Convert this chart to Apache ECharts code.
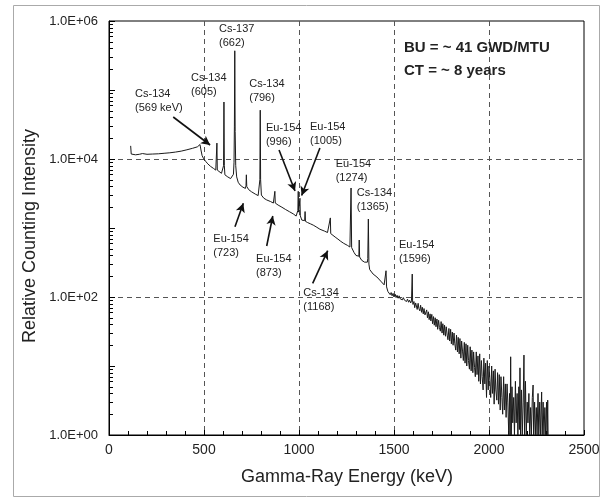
<!DOCTYPE html>
<html>
<head>
<meta charset="utf-8">
<script src="https://cdn.jsdelivr.net/npm/echarts@6/dist/echarts.min.js"></script>
<style>html,body{margin:0;padding:0;background:#fff}#c{width:605px;height:499px}</style>
</head>
<body>
<div id="c"></div>
<script>
// ---- data: [energy keV, relative counts] ----
const spectrumLow = [
 [114,15500],[117,11800],[125,11600],[140,11500],[160,11700],[176,12000],[180,12800],[184,11900],
 [200,11700],[230,11800],[260,11900],[290,12100],[320,12300],[350,12600],[380,13000],[410,13600],
 [440,14300],[465,15000],[475,15600],[479,16200],[484,13500],[490,11200],[498,10100],[508,9300],
 [520,8500],[535,7800],[550,7300],[562,6900],[566,7200],[568,17000],[570,6900],[580,6500],[592,6200],
 [600,6000],[603,8000],[605,67000],[607,8000],[610,5900],[625,5500],[640,5200],[650,5100],[655,6000],
 [658,9000],[660,30000],[662,370000],[664,25000],[667,8000],[672,5500],[680,4600],[690,4200],[705,3900],
 [718,3750],[721,4100],[723,5900],[725,4000],[735,3600],[750,3350],[755,3300],[757,3550],[759,3250],
 [770,3100],[785,2950],[790,3100],[794,5000],[796,51000],[798,5000],[802,3000],[815,2700],[830,2550],
 [850,2420],[865,2300],[871,2350],[873,3400],[875,2300],[890,2150],[910,2000],[930,1850],[950,1720],
 [970,1600],[985,1490],[992,1480],[994,1800],[996,3400],[998,1700],[1002,1650],[1005,2700],[1007,1500]
];
const spectrumMid = [
 [1015,1300],[1025,1260],[1030,1280],[1032,1730],[1034,1250],[1045,1200],[1060,1150],[1075,1100],
 [1090,1040],[1100,1020],[1110,960],[1120,940],[1135,900],[1150,860],[1160,840],[1163,850],[1165,1400],
 [1167,830],[1175,800],[1190,740],[1205,690],[1220,640],[1235,600],[1245,580],[1255,560],[1262,545],
 [1268,530],[1271,560],[1274,3800],[1277,520],[1282,500],[1290,440],[1300,400],[1310,380],[1315,390],
 [1317,670],[1319,380],[1330,340],[1345,320],[1355,310],[1360,320],[1362,360],[1365,1350],[1368,300],
 [1372,250],[1380,235],[1390,215],[1400,205],[1410,195],[1420,185],[1430,170],[1440,160],[1448,150],
 [1455,145],[1458,240],[1461,140],[1468,120],[1475,125],[1480,108],[1485,116],[1490,104],[1495,113],
 [1500,100],[1506,110],[1511,98],[1516,106],[1522,96],[1527,104],[1533,94],[1538,100],[1544,91],
 [1549,98],[1555,90],[1560,95],[1566,86],[1571,93],[1577,84],[1582,90],[1588,82],[1592,88],[1594,86],
 [1596,215],[1598,84]
];
const spectrumTail = [
 [1600,78],[1605,86],[1609,70],[1614,82],[1618,74],[1622,66],[1627,81],[1631,68],[1636,63],[1640,76],
 [1645,60],[1649,71],[1654,57],[1658,68],[1663,55],[1667,53],[1672,65],[1676,50],[1681,61],[1685,47],
 [1690,57],[1694,45],[1699,56],[1703,41],[1708,52],[1712,39],[1717,50],[1721,37],[1726,48],[1730,34],
 [1735,46],[1739,36],[1744,32],[1748,44],[1753,30],[1757,41],[1762,28],[1766,39],[1771,27],[1775,37],
 [1780,28],[1784,24],[1789,35],[1793,23],[1798,34],[1802,21],[1807,31],[1811,20],[1816,30],[1820,21],
 [1825,17],[1829,28],[1834,16],[1838,26],[1843,15],[1847,25],[1852,13],[1856,23],[1861,16],[1865,12],
 [1870,22],[1874,11],[1879,21],[1883,10],[1888,20],[1892,12],[1897,9],[1901,19],[1906,8.5],[1910,17],
 [1915,8],[1919,16],[1924,9.5],[1928,7],[1933,16],[1937,7.5],[1942,14],[1946,6],[1951,15],[1955,5.5],
 [1960,12],[1964,7],[1969,4.5],[1973,13],[1978,5.5],[1982,11],[1987,3.5],[1991,12],[1996,4.5],[2000,10],
 [2005,6],[2009,3.5],[2014,10],[2018,4],[2023,8.5],[2027,2.8],[2032,9],[2036,4.5],[2041,3.2],[2045,8],
 [2050,2.8],[2054,7.5],[2059,2.3],[2063,7],[2068,3.5],[2072,2],[2077,7],[2081,2.3],[2086,5.5],[2090,1.8],
 [2095,5.5],[2099,3],[2104,1],[2108,4],[2111,1],[2114,13.6],[2117,1],[2121,5],[2125,1.5],[2130,3.5],
 [2134,1],[2139,6],[2143,1.5],[2148,4],[2152,1],[2157,5],[2160,1.2],[2163,9.4],[2166,1],[2171,4.5],
 [2175,1],[2180,3],[2184,14.4],[2187,1],[2192,6],[2196,1],[2201,3],[2205,1.5],[2210,4],[2214,1],
 [2219,2.5],[2223,1],[2228,3.5],[2232,5.3],[2235,1],[2240,3],[2244,1],[2249,2.5],[2253,1],[2258,4],
 [2262,1],[2267,3],[2271,1],[2277,4.2],[2280,1],[2285,3],[2289,1],[2294,2.5],[2298,1],[2303,3],
 [2306,1],[2309,3.2],[2311,1]
];
const xTicks = [0, 500, 1000, 1500, 2000, 2500];
const yTickLabels = ['1.0E+00', '1.0E+02', '1.0E+04', '1.0E+06'];

// peak annotations: text, label anchor [keV, counts], optional arrow [from, to]
const annotations = [
 { text: 'Cs-134\n(569 keV)', at: [137, 69700],  arrow: [[338, 40600], [532, 15960]] },
 { text: 'Cs-134\n(605)',     at: [432, 118000] },
 { text: 'Cs-137\n(662)',     at: [579, 600000] },
 { text: 'Cs-134\n(796)',     at: [738, 97700] },
 { text: 'Eu-154\n(996)',     at: [826, 22000],  arrow: [[895, 13500], [979, 3440]] },
 { text: 'Eu-154\n(1005)',    at: [1058, 23300], arrow: [[1110, 14400], [1014, 2960]] },
 { text: 'Eu-154\n(723)',     at: [549, 548],    arrow: [[663, 1045], [707, 2280]] },
 { text: 'Eu-154\n(873)',     at: [774, 279],    arrow: [[830, 548], [862, 1493]] },
 { text: 'Cs-134\n(1168)',    at: [1023, 91.4],  arrow: [[1072, 158], [1151, 469]] },
 { text: 'Eu-154\n(1274)',    at: [1193, 6780] },
 { text: 'Cs-134\n(1365)',    at: [1304, 2550] },
 { text: 'Eu-154\n(1596)',    at: [1526, 447] }
];
const infoLines = ['BU = ~ 41 GWD/MTU', 'CT = ~ 8 years'];

// minor tick values of the log axis (1..9 x 10^n)
const yMinor = [];
for (let n = 0; n < 6; n++) for (let k = 1; k < 10; k++) yMinor.push([0, k * Math.pow(10, n), k === 1 ? 6 : 4]);
yMinor.push([0, 1e6, 6]);

const FONT = '"Liberation Sans", Arial, sans-serif';
const chart = echarts.init(document.getElementById('c'), null, { renderer: 'canvas' });
const spectrum = spectrumLow.concat(spectrumMid, spectrumTail);

chart.setOption({
  animation: false,
  backgroundColor: '#fff',
  grid: { left: 109, right: 21, top: 21, bottom: 64, show: true, borderColor: '#000', borderWidth: 1, backgroundColor: 'transparent' },
  xAxis: {
    type: 'value', min: xTicks[0], max: xTicks[xTicks.length - 1], interval: 500,
    axisLine: { show: true, lineStyle: { color: '#000', width: 1 } },
    axisTick: { show: true, inside: true, length: 5, lineStyle: { color: '#000' } },
    minorTick: { show: true, splitNumber: 5, length: 4, lineStyle: { color: '#000' } },
    axisLabel: { color: '#222', fontSize: 14, fontFamily: FONT, margin: 8, formatter: v => String(v) },
    splitLine: { show: true, showMinLine: false, showMaxLine: false, lineStyle: { color: '#555', type: [5, 4], width: 1 } },
    minorSplitLine: { show: false }
  },
  yAxis: {
    type: 'log', logBase: 100, min: 1, max: 1e6,
    axisLine: { show: true, lineStyle: { color: '#000', width: 1 } },
    axisTick: { show: false },
    axisLabel: { color: '#222', fontSize: 13, fontFamily: FONT, margin: 11,
      formatter: v => yTickLabels[Math.round(Math.log10(v) / 2)] || '' },
    splitLine: { show: true, showMinLine: false, showMaxLine: false, lineStyle: { color: '#555', type: [5, 4], width: 1 } }
  },
  series: [
    {
      type: 'line', data: spectrum, showSymbol: false, symbol: 'none', sampling: false,
      lineStyle: { color: '#1a1a1a', width: 1 }, silent: true, z: 3,
      markLine: {
        silent: true, symbol: ['none', 'arrow'], symbolSize: [7, 9], animation: false,
        label: { show: false },
        lineStyle: { color: '#111', width: 1.6, type: 'solid' },
        data: annotations.filter(a => a.arrow).map(a => [{ coord: a.arrow[0] }, { coord: a.arrow[1] }])
      }
    },
    {
      type: 'custom', data: yMinor, silent: true, clip: false, z: 4,
      renderItem: (params, api) => {
        const p = api.coord([0, api.value(1)]);
        const y = Math.round(p[1]) + 0.5;
        return { type: 'line', shape: { x1: p[0], y1: y, x2: p[0] + api.value(2), y2: y },
          style: { stroke: '#000', lineWidth: 1 } };
      }
    }
  ]
});

const graphics = [
  { type: 'rect', shape: { x: 13.5, y: 5.5, width: 586, height: 491 }, style: { fill: 'none', stroke: '#aaa', lineWidth: 1 }, z: 0, silent: true },
  { type: 'text', x: 347, y: 477, style: { text: 'Gamma-Ray Energy (keV)', font: '18px ' + FONT, fill: '#222', textAlign: 'center', textVerticalAlign: 'middle' } },
  { type: 'text', x: 30, y: 236, rotation: Math.PI / 2, style: { text: 'Relative Counting Intensity', font: '18px ' + FONT, fill: '#222', textAlign: 'center', textVerticalAlign: 'middle' } },
  { type: 'text', x: 404, y: 48, style: { text: infoLines[0], font: 'bold 15px ' + FONT, fill: '#222', textVerticalAlign: 'middle' } },
  { type: 'text', x: 404, y: 71, style: { text: infoLines[1], font: 'bold 15px ' + FONT, fill: '#222', textVerticalAlign: 'middle' } }
];
annotations.forEach(a => {
  const p = chart.convertToPixel({ xAxisIndex: 0, yAxisIndex: 0 }, a.at);
  graphics.push({ type: 'text', x: p[0], y: p[1], z: 10,
    style: { text: a.text, font: '11px ' + FONT, lineHeight: 14, fill: '#222', textAlign: 'left', textVerticalAlign: 'middle' } });
});
chart.setOption({ graphic: graphics });
</script>
</body>
</html>
